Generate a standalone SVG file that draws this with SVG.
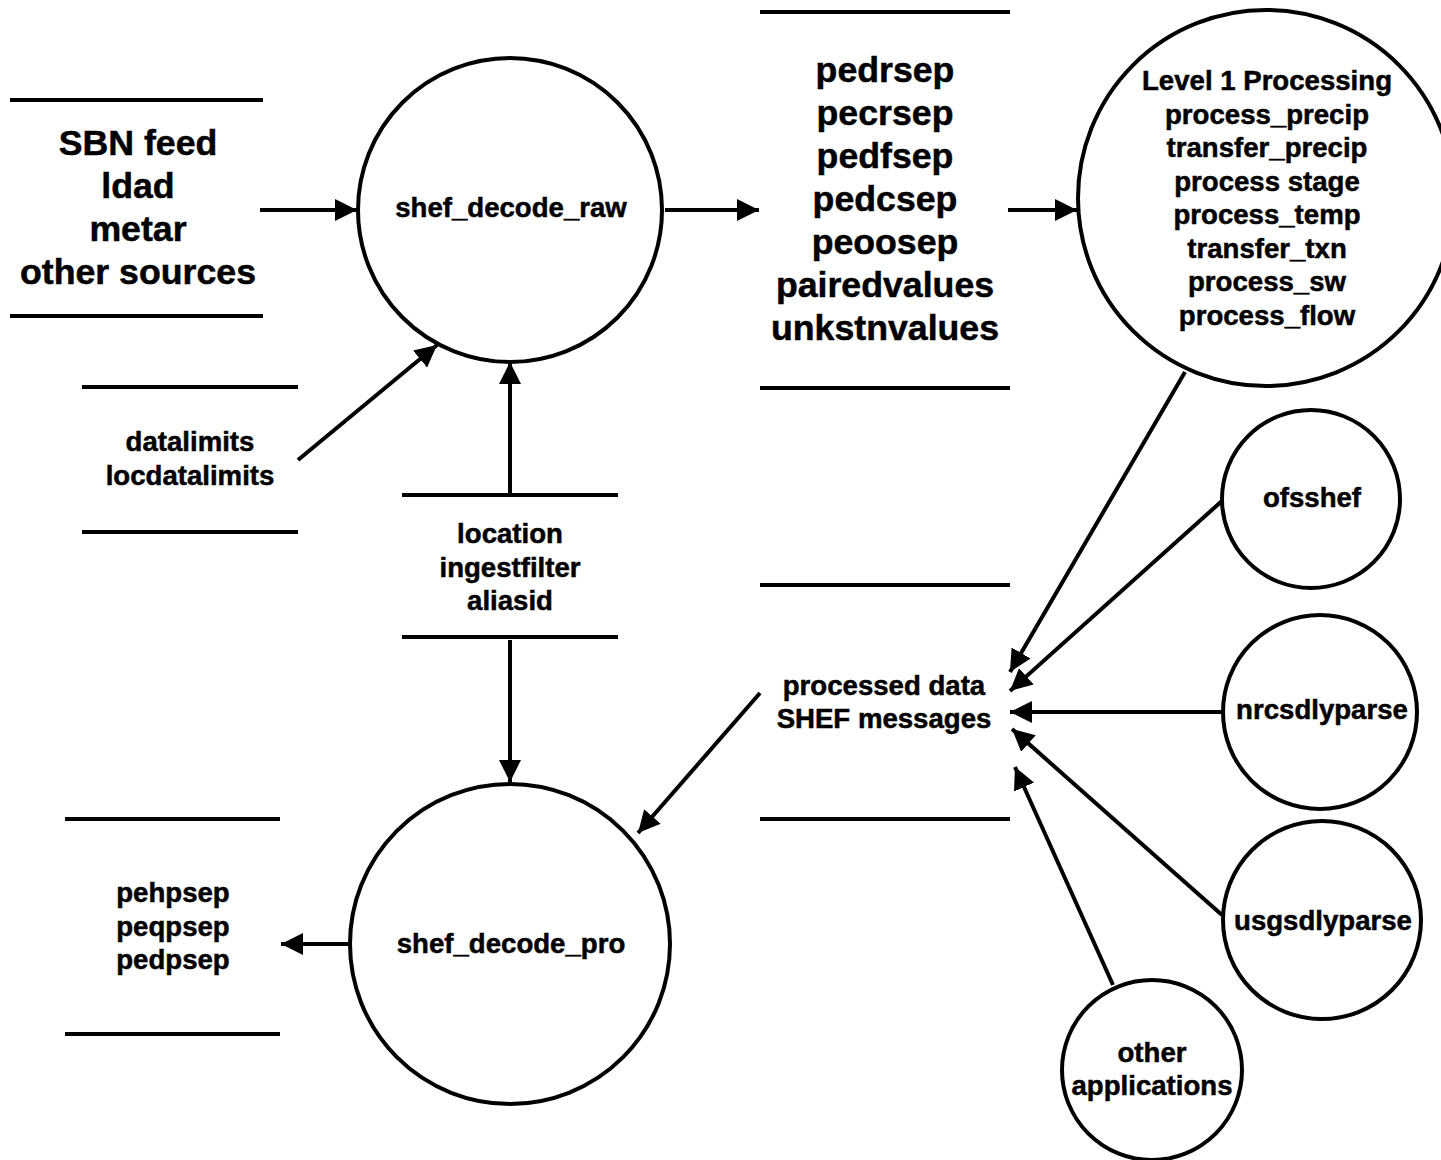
<svg xmlns="http://www.w3.org/2000/svg" width="1441" height="1160" viewBox="0 0 1441 1160">
<defs>
<style>
.c{fill:#fff;stroke:#000;stroke-width:4}
.s{stroke:#000;stroke-width:4;fill:none}
.e{stroke:#000;stroke-width:4;fill:none;marker-end:url(#ah)}
text{font-family:"Liberation Sans",Arial,sans-serif;font-weight:bold;text-anchor:middle;fill:#000;stroke:#000;stroke-width:0.5}
.b{font-size:35.7px}
.m{font-size:27.6px}
</style>
<marker id="ah" markerUnits="userSpaceOnUse" markerWidth="24" markerHeight="22" refX="22" refY="11" orient="auto">
<path d="M0,0 L22,11 L0,22 Z" fill="#000"/>
</marker>
</defs>
<g id="connectors">
<line class="e" x1="260" y1="210" x2="357" y2="210"/>
<line class="e" x1="665" y1="210" x2="759" y2="210"/>
<line class="e" x1="1008" y1="210" x2="1077" y2="210"/>
<line class="e" x1="298" y1="460" x2="437" y2="345"/>
<line class="e" x1="510" y1="494" x2="510" y2="362"/>
<line class="e" x1="510" y1="640" x2="510" y2="782"/>
<line class="e" x1="350" y1="944" x2="281" y2="944"/>
<line class="e" x1="760" y1="693" x2="638" y2="833"/>
<line class="e" x1="1185" y1="372" x2="1010" y2="672"/>
<line class="e" x1="1223" y1="500" x2="1010" y2="691"/>
<line class="e" x1="1222" y1="712" x2="1010" y2="712"/>
<line class="e" x1="1222" y1="915" x2="1012" y2="729"/>
<line class="e" x1="1113" y1="985" x2="1015" y2="767"/>
</g>
<g id="store-sources">
<line class="s" x1="10" y1="100" x2="263" y2="100"/>
<line class="s" x1="10" y1="316" x2="263" y2="316"/>
<text class="b" x="138" y="155">SBN feed</text>
<text class="b" x="138" y="198">ldad</text>
<text class="b" x="138" y="241">metar</text>
<text class="b" x="138" y="284">other sources</text>
</g>
<g id="store-datalimits">
<line class="s" x1="82" y1="387" x2="298" y2="387"/>
<line class="s" x1="82" y1="532" x2="298" y2="532"/>
<text class="m" x="190" y="451">datalimits</text>
<text class="m" x="190" y="485">locdatalimits</text>
</g>
<g id="store-location">
<line class="s" x1="402" y1="495" x2="618" y2="495"/>
<line class="s" x1="402" y1="637" x2="618" y2="637"/>
<text class="m" x="510" y="543">location</text>
<text class="m" x="510" y="577">ingestfilter</text>
<text class="m" x="510" y="610">aliasid</text>
</g>
<g id="store-pe">
<line class="s" x1="760" y1="12" x2="1010" y2="12"/>
<line class="s" x1="760" y1="388" x2="1010" y2="388"/>
<text class="b" x="885" y="82">pedrsep</text>
<text class="b" x="885" y="125">pecrsep</text>
<text class="b" x="885" y="168">pedfsep</text>
<text class="b" x="885" y="211">pedcsep</text>
<text class="b" x="885" y="254">peoosep</text>
<text class="b" x="885" y="297">pairedvalues</text>
<text class="b" x="885" y="340">unkstnvalues</text>
</g>
<g id="store-processed">
<line class="s" x1="760" y1="585" x2="1010" y2="585"/>
<line class="s" x1="760" y1="819" x2="1010" y2="819"/>
<text class="m" x="884" y="695">processed data</text>
<text class="m" x="884" y="728">SHEF messages</text>
</g>
<g id="store-pp">
<line class="s" x1="65" y1="819" x2="280" y2="819"/>
<line class="s" x1="65" y1="1034" x2="280" y2="1034"/>
<text class="m" x="173" y="902">pehpsep</text>
<text class="m" x="173" y="936">peqpsep</text>
<text class="m" x="173" y="969">pedpsep</text>
</g>
<g id="shef_decode_raw">
<circle class="c" cx="510" cy="210" r="152"/>
<text class="m" x="511" y="217">shef_decode_raw</text>
</g>
<g id="shef_decode_pro">
<circle class="c" cx="510" cy="944" r="160"/>
<text class="m" x="511" y="953">shef_decode_pro</text>
</g>
<g id="level1">
<circle class="c" cx="1266" cy="198" r="188"/>
<text class="m" x="1267" y="90">Level 1 Processing</text>
<text class="m" x="1267" y="124">process_precip</text>
<text class="m" x="1267" y="157">transfer_precip</text>
<text class="m" x="1267" y="191">process stage</text>
<text class="m" x="1267" y="224">process_temp</text>
<text class="m" x="1267" y="258">transfer_txn</text>
<text class="m" x="1267" y="291">process_sw</text>
<text class="m" x="1267" y="325">process_flow</text>
</g>
<g id="ofsshef">
<circle class="c" cx="1311" cy="499" r="89"/>
<text class="m" x="1312" y="507">ofsshef</text>
</g>
<g id="nrcsdlyparse">
<circle class="c" cx="1320" cy="712" r="97"/>
<text class="m" x="1322" y="719">nrcsdlyparse</text>
</g>
<g id="usgsdlyparse">
<circle class="c" cx="1322" cy="920" r="99"/>
<text class="m" x="1323" y="930">usgsdlyparse</text>
</g>
<g id="other_applications">
<circle class="c" cx="1152" cy="1070" r="90"/>
<text class="m" x="1152" y="1062">other</text>
<text class="m" x="1152" y="1095">applications</text>
</g>
</svg>
